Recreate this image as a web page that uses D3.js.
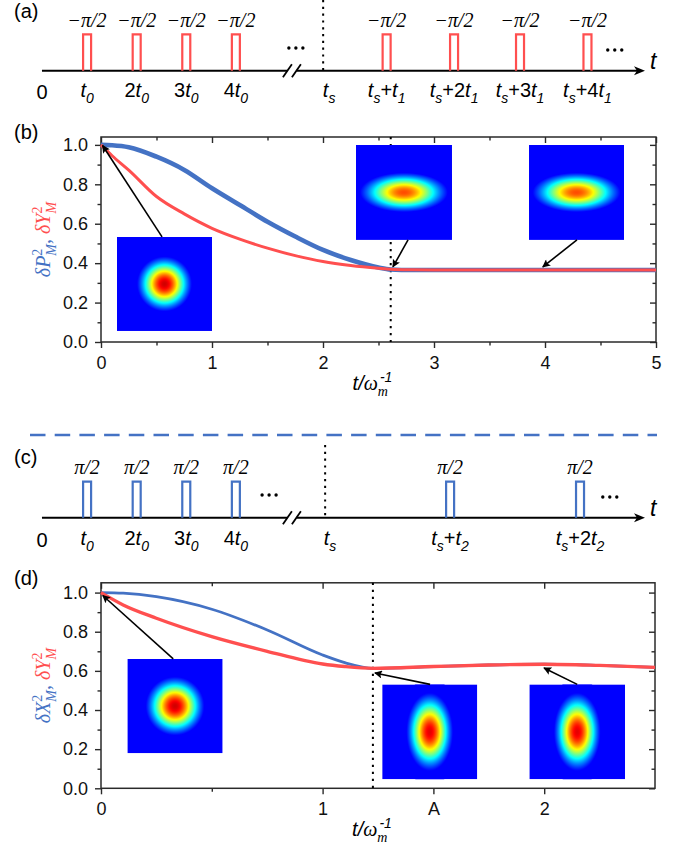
<!DOCTYPE html>
<html><head><meta charset="utf-8">
<script src="https://cdn.jsdelivr.net/npm/d3@7"></script>
<style>body{margin:0;background:#fff}svg{display:block}</style>
</head><body>
<svg id="c" width="680" height="858"></svg>
<script>
// ================= DATA =================
// panel (b)
const tB    = [0, 0.1, 0.25, 0.5, 0.75, 1.0, 1.25, 1.5, 1.75, 2.0, 2.25, 2.5, 2.61, 2.8, 3.0, 3.5, 4.0, 4.5, 5.0];
const blueB = [1.0, 0.998, 0.988, 0.94, 0.873, 0.78, 0.695, 0.61, 0.535, 0.467, 0.416, 0.378, 0.368, 0.365, 0.365, 0.365, 0.365, 0.365, 0.365];
const redB  = [1.0, 0.945, 0.872, 0.738, 0.65, 0.577, 0.522, 0.476, 0.438, 0.408, 0.388, 0.374, 0.369, 0.366, 0.365, 0.365, 0.365, 0.365, 0.365];
const dottedB = 2.61;
// panel (d)
const tD    = [0, 0.1, 0.25, 0.5, 0.75, 1.0, 1.1, 1.227, 1.5, 1.75, 2.0, 2.25, 2.5];
const blueD = [1.0, 0.997, 0.979, 0.915, 0.809, 0.681, 0.642, 0.613, 0.622, 0.630, 0.634, 0.628, 0.618];
const redD  = [1.0, 0.937, 0.869, 0.775, 0.700, 0.635, 0.622, 0.613, 0.622, 0.630, 0.634, 0.628, 0.618];
const dottedD = 1.227;
// ticks
const yMajor = [0, 0.2, 0.4, 0.6, 0.8, 1.0];
const yMinor = [0.1, 0.3, 0.5, 0.7, 0.9];
const xMajorB = [0, 1, 2, 3, 4, 5];
const xMinorB = [0.5, 1.5, 2.5, 3.5, 4.5];
const xMajorD = [0, 1, 1.5, 2];
const xLabelsD = ["0", "1", "A", "2"];
const xMinorD = [0.5];
// timelines (schematic units, t0 = 1)
const pulsesA = [1, 2, 3, 4, 7.04, 8.40, 9.73, 11.09];
const pulseTextA = "\u2212\u03c0/2";
const pulsesC = [1, 2, 3, 4, 8.32, 10.94];
const pulseTextC = "\u03c0/2";
const tsA = 5.76, tsC = 5.80, breakU = 5.14, axisEndU = 12.25, originU = 0.09;
const dotsA = [5.21, 11.64];
const dotsC = [4.67, 11.54];
const labelsA = [
  {u:1, p:[["t","i"],["0","sub"]]},
  {u:2, p:[["2"],["t","i"],["0","sub"]]},
  {u:3, p:[["3"],["t","i"],["0","sub"]]},
  {u:4, p:[["4"],["t","i"],["0","sub"]]},
  {u:tsA+0.12, p:[["t","i"],["s","sub"]]},
  {u:7.04, p:[["t","i"],["s","sub"],["+"],["t","i"],["1","sub"]]},
  {u:8.40, p:[["t","i"],["s","sub"],["+2"],["t","i"],["1","sub"]]},
  {u:9.73, p:[["t","i"],["s","sub"],["+3"],["t","i"],["1","sub"]]},
  {u:11.09,p:[["t","i"],["s","sub"],["+4"],["t","i"],["1","sub"]]}
];
const labelsC = [
  {u:1, p:[["t","i"],["0","sub"]]},
  {u:2, p:[["2"],["t","i"],["0","sub"]]},
  {u:3, p:[["3"],["t","i"],["0","sub"]]},
  {u:4, p:[["4"],["t","i"],["0","sub"]]},
  {u:tsC+0.1, p:[["t","i"],["s","sub"]]},
  {u:8.32, p:[["t","i"],["s","sub"],["+"],["t","i"],["2","sub"]]},
  {u:10.94,p:[["t","i"],["s","sub"],["+2"],["t","i"],["2","sub"]]}
];

// ================= STYLE / LAYOUT =================
const BLUE = "#4472c4", RED = "#ff4f4f", AX = "#2a2a2a";
const SANS = "Liberation Sans, Arial, sans-serif";
const SERIF = "Liberation Serif, Times New Roman, serif";
const svg = d3.select("#c");
const defs = svg.append("defs");
defs.append("marker").attr("id","ah").attr("viewBox","0 0 10 10").attr("refX",9).attr("refY",5)
  .attr("markerWidth",11).attr("markerHeight",8).attr("markerUnits","userSpaceOnUse").attr("orient","auto")
  .append("path").attr("d","M0,0L10,5L0,10L2,5z").attr("fill","#000");

function jet(v){
  const c = x => Math.max(0, Math.min(1, x));
  return d3.rgb(255*c(1.5-Math.abs(4*v-3)), 255*c(1.5-Math.abs(4*v-2)), 255*c(1.5-Math.abs(4*v-1))).formatHex();
}

function rich(sel, x, y, parts, o){
  const t = sel.append("text").attr("x",x).attr("y",y)
    .attr("text-anchor", o.anchor || "middle").attr("font-size", o.size)
    .attr("font-family", o.family || SANS).attr("fill", o.fill || "#000");
  if (o.rotate) t.attr("transform", `rotate(${o.rotate},${x},${y})`);
  let cur = 0;
  parts.forEach(p => {
    const [txt, kind, extra] = p;
    const sub = kind === "sub" || (extra && extra.sub);
    const sup = kind === "sup" || (extra && extra.sup);
    const tgt = sub ? o.size*0.28 : sup ? -o.size*0.42 : 0;
    const ts = t.append("tspan").text(txt).attr("dy", tgt - cur);
    cur = tgt;
    if (sub || sup) ts.attr("font-size", o.size*0.7);
    if (kind === "i" || (extra && extra.i) || (sub && o.subItalic !== false)) ts.attr("font-style","italic");
    if (extra && extra.fill) ts.attr("fill", extra.fill);
    if (extra && extra.serif) ts.attr("font-family", SERIF);
    if (extra && extra.dx) ts.attr("dx", extra.dx);
  });
  return t;
}

// ================= TIMELINES =================
const u = d3.scaleLinear().domain([0, axisEndU]).range([37.5, 645]);

function timeline(cfg){
  const g = svg.append("g");
  const yA = cfg.axisY;
  g.append("line").attr("x1",u(originU)).attr("x2",u(breakU)-5).attr("y1",yA).attr("y2",yA).attr("stroke","#000").attr("stroke-width",2);
  g.append("line").attr("x1",u(breakU)+4).attr("x2",u(axisEndU)-8).attr("y1",yA).attr("y2",yA).attr("stroke","#000").attr("stroke-width",2);
  g.append("path").attr("d",`M${u(axisEndU)-11},${yA-4.5}L${u(axisEndU)},${yA}L${u(axisEndU)-11},${yA+4.5}L${u(axisEndU)-8},${yA}z`).attr("fill","#000");
  [-5, 4].forEach(dx => {
    const cx = u(breakU) + dx;
    g.append("line").attr("x1",cx-4.5).attr("y1",yA+6.5).attr("x2",cx+4.5).attr("y2",yA-6.5).attr("stroke","#000").attr("stroke-width",1.8);
  });
  g.append("line").attr("x1",u(cfg.ts)).attr("x2",u(cfg.ts)).attr("y1",cfg.dotTop).attr("y2",yA)
    .attr("stroke","#000").attr("stroke-width",2).attr("stroke-dasharray","2.2,4.6");
  cfg.pulses.forEach(p => {
    const x = u(p);
    g.append("path").attr("d",`M${x-4},${yA}V${cfg.pulseTop}H${x+4}V${yA}`)
      .attr("fill","none").attr("stroke",cfg.color).attr("stroke-width",2.2);
    g.append("text").attr("x",x).attr("y",cfg.pulseTop-7.5).attr("text-anchor","middle")
      .attr("font-family",SERIF).attr("font-style","italic").attr("font-size",20).text(cfg.pulseText);
  });
  cfg.dots.forEach((d,i) => {
    [-7,0,7].forEach(dx => g.append("circle").attr("cx",u(d)+dx).attr("cy",cfg.dotsY[i]).attr("r",1.7).attr("fill","#000"));
  });
  g.append("text").attr("x",u(originU)).attr("y",cfg.labelY+2).attr("text-anchor","middle")
    .attr("font-family",SANS).attr("font-size",20).text("0");
  cfg.labels.forEach(l => rich(g, u(l.u), cfg.labelY, l.p, {size:20}));
  g.append("text").attr("x",650).attr("y",yA-2).attr("font-family",SANS).attr("font-style","italic").attr("font-size",23).text("t");
  g.append("text").attr("x",14).attr("y",cfg.tagY).attr("font-family",SANS).attr("font-size",20).text(cfg.tag);
}

timeline({axisY:70.7, pulseTop:34.3, ts:tsA, dotTop:0, pulses:pulsesA, pulseText:pulseTextA, color:RED,
  dots:dotsA, dotsY:[48,50], labels:labelsA, labelY:97, tag:"(a)", tagY:18});
timeline({axisY:517.7, pulseTop:481.7, ts:tsC, dotTop:445, pulses:pulsesC, pulseText:pulseTextC, color:BLUE,
  dots:dotsC, dotsY:[495,497], labels:labelsC, labelY:545, tag:"(c)", tagY:464});

svg.append("line").attr("x1",30).attr("x2",657).attr("y1",435).attr("y2",435)
  .attr("stroke",BLUE).attr("stroke-width",2.6).attr("stroke-dasharray","15.5,9.2");

// ================= PLOT PANELS =================
function panel(cfg){
  const g = svg.append("g");
  const x = d3.scaleLinear().domain(cfg.xDom).range(cfg.xRange);
  const y = d3.scaleLinear().domain(cfg.yDom).range(cfg.yRange);
  const [L,R] = cfg.xRange, [B,T] = cfg.yRange;
  const styleAxis = sel => { sel.select(".domain").remove(); sel.selectAll("line").attr("stroke",AX).attr("stroke-width",1.4);
    sel.selectAll("text").attr("font-family",SANS).attr("font-size",18).attr("fill","#111"); };
  g.append("g").attr("transform",`translate(0,${B})`).call(d3.axisBottom(x).tickValues(cfg.xMajor).tickSize(6).tickPadding(8)
    .tickFormat((d,i)=>cfg.xLabels[i])).call(styleAxis);
  g.append("g").attr("transform",`translate(0,${B})`).call(d3.axisBottom(x).tickValues(cfg.xMinor).tickSize(3.5).tickFormat("")).call(styleAxis);
  g.append("g").attr("transform",`translate(0,${T})`).call(d3.axisTop(x).tickValues(cfg.xMajor).tickSize(-6).tickFormat("")).call(styleAxis);
  g.append("g").attr("transform",`translate(0,${T})`).call(d3.axisTop(x).tickValues(cfg.xMinor).tickSize(-3.5).tickFormat("")).call(styleAxis);
  g.append("g").attr("transform",`translate(${L},0)`).call(d3.axisLeft(y).tickValues(yMajor).tickSize(6).tickPadding(7).tickFormat(d3.format(".1f"))).call(styleAxis);
  g.append("g").attr("transform",`translate(${L},0)`).call(d3.axisLeft(y).tickValues(yMinor).tickSize(3.5).tickFormat("")).call(styleAxis);
  g.append("g").attr("transform",`translate(${R},0)`).call(d3.axisRight(y).tickValues(yMajor).tickSize(-6).tickFormat("")).call(styleAxis);
  g.append("g").attr("transform",`translate(${R},0)`).call(d3.axisRight(y).tickValues(yMinor).tickSize(-3.5).tickFormat("")).call(styleAxis);
  g.append("rect").attr("x",L).attr("y",T).attr("width",R-L).attr("height",B-T).attr("fill","none").attr("stroke",AX).attr("stroke-width",1.5);

  g.append("line").attr("x1",x(cfg.dotted)).attr("x2",x(cfg.dotted)).attr("y1",T).attr("y2",B)
    .attr("stroke","#000").attr("stroke-width",2).attr("stroke-dasharray","2.3,4.7");

  const line = vals => d3.line().x((d,i)=>x(cfg.t[i])).y(d=>y(d)).curve(d3.curveMonotoneX)(vals);
  g.append("path").attr("d",line(cfg.blue)).attr("fill","none").attr("stroke",BLUE).attr("stroke-width",cfg.blueW);
  g.append("path").attr("d",line(cfg.red)).attr("fill","none").attr("stroke",RED).attr("stroke-width",cfg.redW);

  // insets: Gaussian density maps with a jet colormap
  cfg.insets.forEach((s,k) => {
    const id = cfg.id + k;
    const x0 = x(s.x[0]), x1 = x(s.x[1]), y0 = y(s.y[1]), y1 = y(s.y[0]);
    const cx = (x0+x1)/2, cy = (y0+y1)/2;
    defs.append("clipPath").attr("id","clip"+id).append("rect").attr("x",x0).attr("y",y0).attr("width",x1-x0).attr("height",y1-y0);
    const grad = defs.append("radialGradient").attr("id","grad"+id);
    const lo = -0.06;
    d3.range(0, 61).forEach(i => {
      const sN = i/60, gv = Math.exp(-(2.5*sN)*(2.5*sN)/2);
      grad.append("stop").attr("offset",sN).attr("stop-color", jet(Math.max(0.125, lo + (s.peak-lo)*gv)));
    });
    const gi = g.append("g").attr("clip-path",`url(#clip${id})`);
    gi.append("rect").attr("x",x0).attr("y",y0).attr("width",x1-x0).attr("height",y1-y0).attr("fill",jet(0.125));
    gi.append("ellipse").attr("cx",cx).attr("cy",cy).attr("rx",2.5*s.sx).attr("ry",2.5*s.sy).attr("fill",`url(#grad${id})`);
    g.append("line").attr("x1",x(s.from[0])).attr("y1",y(s.from[1])).attr("x2",x(s.to[0])).attr("y2",y(s.to[1]))
      .attr("stroke","#000").attr("stroke-width",1.6).attr("marker-end","url(#ah)");
  });

  rich(g, (L+R)/2 - 6, B + 48, [["t","i"],["/","i"],["\u03c9","i",{serif:true}],["m","sub",{serif:true}],["-1","sup",{i:true,dx:-8}]], {size:20});
  rich(g, 50, (T+B)/2, cfg.yTitle, {size:20, family:SERIF, rotate:-90});
  g.append("text").attr("x",14).attr("y",cfg.tagY).attr("font-family",SANS).attr("font-size",20).text(cfg.tag);
}

panel({id:"b", t:tB, blue:blueB, red:redB, dotted:dottedB, blueW:4.6, redW:3,
  xDom:[0,5], xRange:[101,656], yDom:[0,1.04], yRange:[342,137],
  xMajor:xMajorB, xLabels:xMajorB.map(String), xMinor:xMinorB, tag:"(b)", tagY:139,
  insets:[
    {x:[0.144,1.0],   y:[0.056,0.533], sx:15,   sy:15,   peak:0.92, from:[0.55,0.533],  to:[0.014,0.997]},
    {x:[2.297,3.162], y:[0.518,1.0],   sx:25,   sy:11.2, peak:0.80, from:[2.766,0.518], to:[2.63,0.381]},
    {x:[3.856,4.712], y:[0.518,1.0],   sx:25,   sy:11.2, peak:0.80, from:[4.288,0.518], to:[3.98,0.381]}
  ],
  yTitle:[["\u03b4","",{fill:BLUE,i:true}],["P","",{fill:BLUE,i:true}],["2","sup",{fill:BLUE}],["M","sub",{fill:BLUE,dx:-7}],[", ","",{fill:BLUE,i:true}],
          ["\u03b4","",{fill:RED,i:true}],["Y","",{fill:RED,i:true}],["2","sup",{fill:RED}],["M","sub",{fill:RED,dx:-7}]]
});

panel({id:"d", t:tD, blue:blueD, red:redD, dotted:dottedD, blueW:2.8, redW:3.4,
  xDom:[0,2.5], xRange:[101,655], yDom:[0,1.05], yRange:[788.3,582.8],
  xMajor:xMajorD, xLabels:xLabelsD, xMinor:xMinorD, tag:"(d)", tagY:585,
  insets:[
    {x:[0.119,0.549], y:[0.179,0.661], sx:16,   sy:16,   peak:0.92, from:[0.326,0.661], to:[0.008,0.985]},
    {x:[1.269,1.698], y:[0.046,0.531], sx:12.8, sy:21.4, peak:0.90, from:[1.485,0.531], to:[1.236,0.589]},
    {x:[1.933,2.365], y:[0.046,0.531], sx:12.8, sy:21.4, peak:0.90, from:[2.149,0.531], to:[1.999,0.615]}
  ],
  yTitle:[["\u03b4","",{fill:BLUE,i:true}],["X","",{fill:BLUE,i:true}],["2","sup",{fill:BLUE}],["M","sub",{fill:BLUE,dx:-7}],[", ","",{fill:BLUE,i:true}],
          ["\u03b4","",{fill:RED,i:true}],["Y","",{fill:RED,i:true}],["2","sup",{fill:RED}],["M","sub",{fill:RED,dx:-7}]]
});
</script>
</body></html>
